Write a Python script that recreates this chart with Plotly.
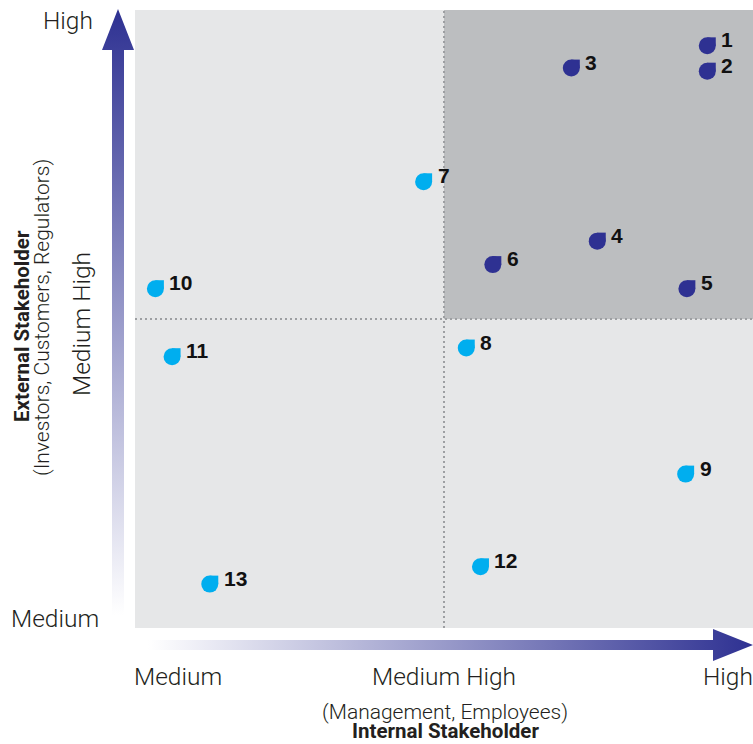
import plotly.graph_objects as go

# ---- data -------------------------------------------------------------
topic_ids = ["1", "2", "3", "4", "5", "6", "7", "8", "9", "10", "11", "12", "13"]
internal_score = [92.6, 92.6, 70.6, 74.8, 89.3, 57.9, 46.7, 53.6, 89.1, 3.3, 6.0, 55.9, 12.1]
external_score = [94.2, 90.1, 90.6, 62.6, 54.9, 58.8, 72.2, 45.3, 24.9, 54.9, 43.9, 9.9, 7.1]
is_material = [True, True, True, True, True, True, False, False, False, False, False, False, False]

level_labels = ["Medium", "Medium High", "High"]
x_title = ["(Management, Employees)", "Internal Stakeholder"]
y_title = ["External Stakeholder", "(Investors, Customers, Regulators)"]

# ---- geometry / style -------------------------------------------------
W, H = 753, 744
PL, PR, PT, PB = 135, 753, 10, 628          # plot box in pixels
XR, YR = (0, 100), (0, 100)
MID = 50
px_per_x = (PR - PL) / (XR[1] - XR[0])
px_per_y = (PB - PT) / (YR[1] - YR[0])

DARK = "#2e3192"
LIGHT = "#00aeef"
BG = "#e6e7e8"
BG_HI = "#bcbec0"
DOT = "#9d9fa2"
TXT = "#231f20"
LIGHT_FONT = dict(family="Roboto", size=24.5, color=TXT, weight=300)
SUB_FONT = dict(family="Roboto", size=21, color=TXT, weight=300)
BOLD_FONT = dict(family="Roboto", size=20.5, color=TXT, weight=700)
NUM_FONT = dict(family="Liberation Sans, Arial", size=21, color="#111111", weight=700)

MARK = 17  # teardrop diameter in px

fig = go.Figure()

# teardrop markers: a circle plus a square filling its upper-right quarter
colors = [DARK if m else LIGHT for m in is_material]
dx = (MARK / 4) / px_per_x
dy = (MARK / 4) / px_per_y
fig.add_trace(go.Scatter(
    x=[v + dx for v in internal_score], y=[v + dy for v in external_score],
    mode="markers", marker=dict(symbol="square", size=MARK / 2, color=colors, line_width=0),
    hoverinfo="skip", showlegend=False))
fig.add_trace(go.Scatter(
    x=internal_score, y=external_score, text=topic_ids,
    mode="markers", marker=dict(symbol="circle", size=MARK, color=colors, line_width=0),
    hovertemplate="Topic %{text}<extra></extra>", showlegend=False))

annotations = []
for tid, xv, yv in zip(topic_ids, internal_score, external_score):
    annotations.append(dict(x=xv, y=yv, xref="x", yref="y", text=f"<b>{tid}</b>",
                            showarrow=False, xanchor="left", yanchor="middle",
                            xshift=12, yshift=6, font=NUM_FONT))

# gradient arrows drawn in a pixel-space overlay
fig.add_trace(go.Scatter(
    x=[112, 124, 124, 134, 118, 102, 112, 112],
    y=[615, 615, 50, 50, 9, 50, 50, 615],
    xaxis="x2", yaxis="y2", mode="lines", line_width=0, fill="toself",
    fillgradient=dict(type="vertical", colorscale=[[0, "rgba(255,255,255,1)"], [1, DARK]]),
    hoverinfo="skip", showlegend=False))
fig.add_trace(go.Scatter(
    x=[148, 713, 713, 753, 713, 713, 148, 148],
    y=[640, 640, 629, 645, 661, 650, 650, 640],
    xaxis="x2", yaxis="y2", mode="lines", line_width=0, fill="toself",
    fillgradient=dict(type="horizontal", colorscale=[[0, "rgba(255,255,255,1)"], [1, DARK]]),
    hoverinfo="skip", showlegend=False))

# quadrant backgrounds and dotted dividers
shapes = [
    dict(type="rect", xref="x", yref="y", x0=XR[0], x1=XR[1], y0=YR[0], y1=YR[1],
         fillcolor=BG, line_width=0, layer="below"),
    dict(type="rect", xref="x", yref="y", x0=MID, x1=XR[1], y0=MID, y1=YR[1],
         fillcolor=BG_HI, line_width=0, layer="below"),
    dict(type="line", xref="x", yref="y", x0=MID, x1=MID, y0=YR[0], y1=YR[1],
         line=dict(color=DOT, width=2, dash="2px,3px"), layer="below"),
    dict(type="line", xref="x", yref="y", x0=XR[0], x1=XR[1], y0=MID, y1=MID,
         line=dict(color=DOT, width=2, dash="2px,3px"), layer="below"),
]

def paper(px, py):
    return px / W, 1 - py / H

# axis level labels
for label, px in zip(level_labels, [178, 444, 728]):
    x, y = paper(px, 676)
    annotations.append(dict(x=x, y=y, xref="paper", yref="paper", text=label, showarrow=False,
                            xanchor="center", yanchor="middle", font=LIGHT_FONT))
for label, (px, py, ang) in zip(level_labels, [(55, 618, 0), (81, 324, -90), (68, 21, 0)]):
    x, y = paper(px, py)
    annotations.append(dict(x=x, y=y, xref="paper", yref="paper", text=label, showarrow=False,
                            textangle=ang, xanchor="center", yanchor="middle", font=LIGHT_FONT))

# axis titles
x, y = paper(445, 712)
annotations.append(dict(x=x, y=y, xref="paper", yref="paper", text=x_title[0], showarrow=False,
                        xanchor="center", yanchor="middle", font=SUB_FONT, borderpad=0))
x, y = paper(445, 730.5)
annotations.append(dict(x=x, y=y, xref="paper", yref="paper", text=f"<b>{x_title[1]}</b>",
                        showarrow=False, xanchor="center", yanchor="middle", font=BOLD_FONT,
                        borderpad=0))
x, y = paper(22, 326)
annotations.append(dict(x=x, y=y, xref="paper", yref="paper", text=f"<b>{y_title[0]}</b>",
                        showarrow=False, textangle=-90, xanchor="center", yanchor="middle",
                        font=BOLD_FONT, borderpad=0))
x, y = paper(42, 318)
annotations.append(dict(x=x, y=y, xref="paper", yref="paper", text=y_title[1], showarrow=False,
                        textangle=-90, xanchor="center", yanchor="middle", font=SUB_FONT,
                        borderpad=0))

hidden = dict(visible=False, showgrid=False, zeroline=False, fixedrange=True)
fig.update_layout(
    width=W, height=H, margin=dict(l=0, r=0, t=0, b=0),
    paper_bgcolor="white", plot_bgcolor="rgba(0,0,0,0)",
    xaxis=dict(domain=[PL / W, PR / W], range=list(XR), **hidden),
    yaxis=dict(domain=[1 - PB / H, 1 - PT / H], range=list(YR), **hidden),
    xaxis2=dict(domain=[0, 1], range=[0, W], anchor="y2", **hidden),
    yaxis2=dict(domain=[0, 1], range=[H, 0], anchor="x2", **hidden),
    shapes=shapes, annotations=annotations, showlegend=False,
)

fig.write_html("out.html")
